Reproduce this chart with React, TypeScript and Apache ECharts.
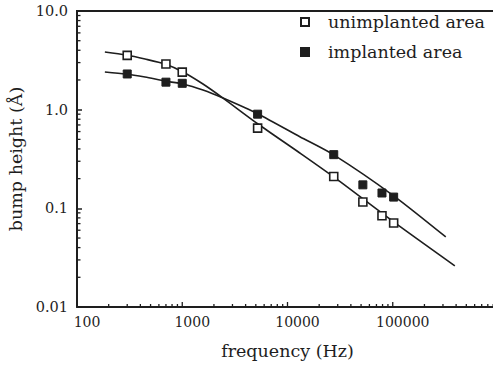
import React, { useEffect, useRef } from "react";
import * as echarts from "echarts";

// measured points
const pointFreq = [300, 700, 1000, 5200, 27500, 52000, 79000, 102000];
const unimplantedHeight = [3.55, 2.9, 2.4, 0.65, 0.21, 0.116, 0.084, 0.071];
const implantedHeight = [2.3, 1.9, 1.85, 0.9, 0.35, 0.173, 0.143, 0.13];

// fitted curves
const unimplantedFitFreq = [184, 292, 443, 685, 1016, 1574, 2440, 5240, 13100, 27500, 102000, 389000];
const unimplantedFit = [3.84, 3.58, 3.26, 2.9, 2.41, 1.82, 1.31, 0.716, 0.364, 0.208, 0.0728, 0.0261];
const implantedFitFreq = [184, 292, 443, 685, 1016, 1574, 2440, 5240, 13100, 27500, 102000, 319000];
const implantedFit = [2.41, 2.3, 2.14, 1.95, 1.82, 1.58, 1.31, 0.905, 0.532, 0.348, 0.134, 0.0513];

// axis ticks
const xMinorTicks = [
  200, 300, 400, 500, 600, 700, 800, 900,
  2000, 3000, 4000, 5000, 6000, 7000, 8000, 9000,
  20000, 30000, 40000, 50000, 60000, 70000, 80000, 90000,
  200000, 300000, 400000, 500000, 600000, 700000, 800000, 900000,
];
const xMajorTicks = [100, 1000, 10000, 100000];
const yMinorTicks = [
  0.02, 0.03, 0.04, 0.05, 0.06, 0.07, 0.08, 0.09,
  0.2, 0.3, 0.4, 0.5, 0.6, 0.7, 0.8, 0.9,
  2, 3, 4, 5, 6, 7, 8, 9,
];
const yTickLabels: Record<string, string> = { "1": "10.0", "0": "1.0", "-1": "0.1", "-2": "0.01" };
const xTickLabels: Record<string, string> = { "2": "100", "3": "1000", "4": "10000", "5": "100000" };

const INK = "#1e1e1e";
const FONT = "DejaVu Serif";
const X_MIN = 100;
const X_MAX = 1000000;
const Y_MIN = 0.01;
const Y_MAX = 10;

export default function App() {
  const ref = useRef<HTMLDivElement>(null);
  useEffect(() => {
    if (!ref.current) return;
    const chart = echarts.init(ref.current, undefined, { renderer: "svg" });
    const zip = (xs: number[], ys: number[]) => xs.map((x, i) => [x, ys[i]]);
    chart.setOption({
      animation: false,
      backgroundColor: "#ffffff",
      textStyle: { fontFamily: FONT, color: INK },
      grid: { left: 77, top: 11, right: 22, bottom: 60, containLabel: false, outerBoundsMode: "none" },
      legend: {
        orient: "vertical",
        left: 300,
        top: 13,
        padding: 0,
        itemWidth: 8,
        itemHeight: 8,
        itemGap: 12,
        icon: "rect",
        data: ["unimplanted area", "implanted area"],
        textStyle: { fontFamily: FONT, fontSize: 17.5, color: INK, padding: [0, 0, 0, 14] },
      },
      xAxis: {
        type: "log",
        min: X_MIN,
        max: X_MAX,
        logBase: 10,
        name: "frequency (Hz)",
        nameLocation: "middle",
        nameGap: 35,
        nameTextStyle: { fontFamily: FONT, fontSize: 17.5, color: INK },
        axisLine: { onZero: false, lineStyle: { color: INK, width: 2 } },
        axisTick: { show: false },
        splitLine: { show: false },
        minorTick: { show: false },
        axisLabel: {
          fontFamily: FONT,
          fontSize: 14,
          color: INK,
          margin: 8,
          padding: [0, 0, 0, 20],
          formatter: (v: number) => xTickLabels[String(Math.round(Math.log10(v)))] ?? "",
        },
      },
      yAxis: {
        type: "log",
        min: Y_MIN,
        max: Y_MAX,
        name: "bump height (Å)",
        nameLocation: "middle",
        nameGap: 46,
        nameTextStyle: { fontFamily: FONT, fontSize: 17.5, color: INK },
        axisLine: { onZero: false, lineStyle: { color: INK, width: 2 } },
        axisTick: { inside: true, length: 5, lineStyle: { color: INK, width: 1.5 } },
        splitLine: { show: false },
        axisLabel: {
          fontFamily: FONT,
          fontSize: 14.5,
          color: INK,
          margin: 9,
          formatter: (v: number) => yTickLabels[String(Math.round(Math.log10(v)))] ?? "",
        },
      },
      series: [
        {
          type: "line",
          name: "unimplanted fit",
          data: zip(unimplantedFitFreq, unimplantedFit),
          smooth: 0.25,
          showSymbol: false,
          symbol: "none",
          lineStyle: { color: INK, width: 1.6 },
          silent: true,
          z: 2,
        },
        {
          type: "line",
          name: "implanted fit",
          data: zip(implantedFitFreq, implantedFit),
          smooth: 0.25,
          showSymbol: false,
          symbol: "none",
          lineStyle: { color: INK, width: 1.6 },
          silent: true,
          z: 2,
        },
        {
          type: "scatter",
          name: "unimplanted area",
          data: zip(pointFreq, unimplantedHeight),
          symbol: "rect",
          symbolSize: 8,
          itemStyle: { color: "#ffffff", borderColor: INK, borderWidth: 1.6, opacity: 1 },
          z: 3,
        },
        {
          type: "scatter",
          name: "implanted area",
          data: zip(pointFreq, implantedHeight),
          symbol: "rect",
          symbolSize: 8,
          itemStyle: { color: INK, borderColor: INK, borderWidth: 1, opacity: 1 },
          z: 3,
        },
        {
          type: "custom",
          name: "top frame",
          silent: true,
          clip: false,
          data: [[X_MIN, Y_MAX, X_MAX]],
          renderItem: (_p: any, api: any) => {
            const a = api.coord([api.value(0), api.value(1)]);
            const b = api.coord([api.value(2), api.value(1)]);
            return {
              type: "line",
              shape: { x1: a[0] - 1, y1: a[1], x2: b[0], y2: b[1] },
              style: { stroke: INK, lineWidth: 2 },
            };
          },
          z: 4,
        },
        {
          type: "custom",
          name: "x ticks",
          silent: true,
          clip: false,
          data: [
            ...xMinorTicks.map((f) => [f, Y_MIN, 3]),
            ...xMajorTicks.map((f) => [f, Y_MIN, 5]),
          ],
          renderItem: (_p: any, api: any) => {
            const c = api.coord([api.value(0), api.value(1)]);
            return {
              type: "line",
              shape: { x1: c[0], y1: c[1], x2: c[0], y2: c[1] - api.value(2) },
              style: { stroke: INK, lineWidth: 1.3 },
            };
          },
          z: 4,
        },
        {
          type: "custom",
          name: "y minor ticks",
          silent: true,
          clip: false,
          data: yMinorTicks.map((v) => [X_MIN, v]),
          renderItem: (_p: any, api: any) => {
            const c = api.coord([api.value(0), api.value(1)]);
            return {
              type: "line",
              shape: { x1: c[0], y1: c[1], x2: c[0] + 3.5, y2: c[1] },
              style: { stroke: INK, lineWidth: 1.3 },
            };
          },
          z: 4,
        },
      ],
    });
    return () => chart.dispose();
  }, []);
  return (
    <div style={{ position: "fixed", left: 0, top: 0, width: 493, height: 367, overflow: "hidden", background: "#fff" }}>
      <div ref={ref} style={{ width: 520, height: 367 }} />
    </div>
  );
}
